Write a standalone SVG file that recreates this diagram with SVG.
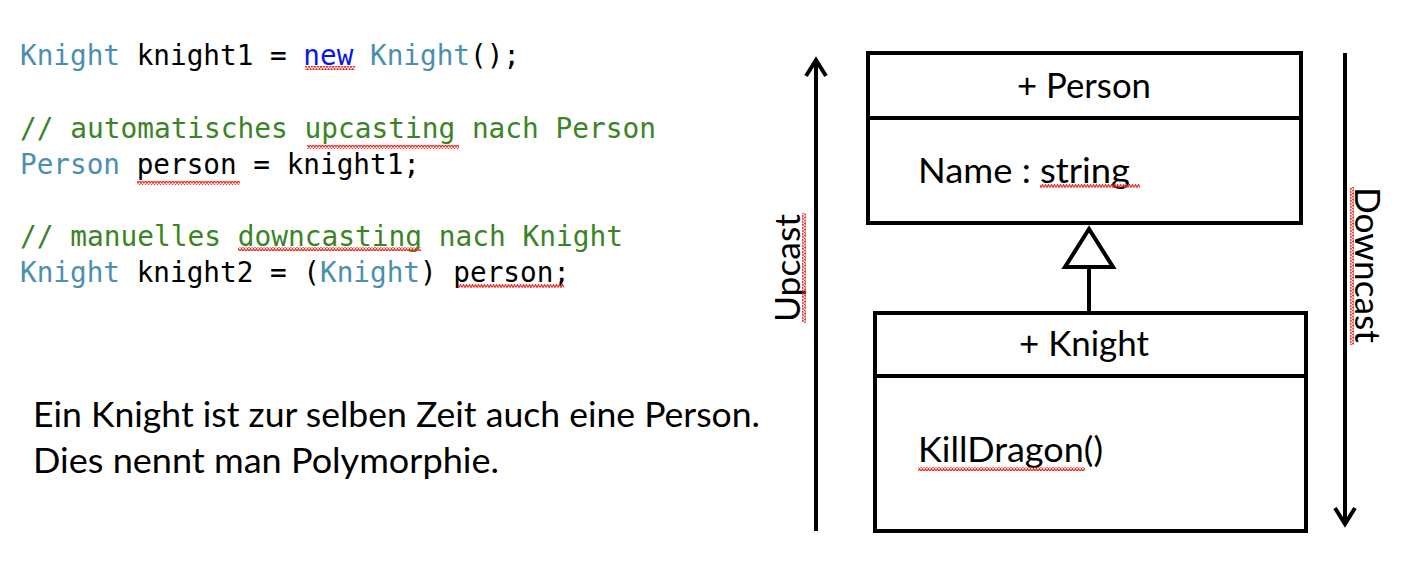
<svg xmlns="http://www.w3.org/2000/svg" width="1402" height="578" viewBox="0 0 1402 578">
<defs>
<pattern id="wavyH" width="6" height="4" patternUnits="userSpaceOnUse">
<path d="M0,3.5 L1.5,0.5 L3,3.5 L4.5,0.5 L6,3.5" fill="none" stroke="#e8322c" stroke-width="1.2"/>
</pattern>
<pattern id="wavyV" width="4" height="6" patternUnits="userSpaceOnUse">
<path d="M3.5,0 L0.5,1.5 L3.5,3 L0.5,4.5 L3.5,6" fill="none" stroke="#e8322c" stroke-width="1.2"/>
</pattern>
</defs>
<style>
.code{font-family:"DejaVu Sans Mono","Liberation Mono",monospace;font-size:28.5px;}
.t{fill:#4b8fb0}.c{fill:#3b8426}.k{fill:#0a14f0}.b{fill:#000}
.cal{font-family:Lato,"Open Sans",sans-serif;fill:#000}
.box{fill:#fff;stroke:#000;stroke-width:4}
.ln{stroke:#000;stroke-width:4;fill:none}
</style>
<rect width="1402" height="578" fill="#fff"/>
<g id="code">
<text class="code" x="20" y="65" textLength="500" lengthAdjust="spacingAndGlyphs"><tspan class="t">Knight</tspan><tspan class="b"> knight1 = </tspan><tspan class="k">new</tspan><tspan class="b"> </tspan><tspan class="t">Knight</tspan><tspan class="b">();</tspan></text>
<text class="code c" x="20" y="138" textLength="636" lengthAdjust="spacingAndGlyphs">// automatisches upcasting nach Person</text>
<text class="code" x="20" y="174" textLength="400" lengthAdjust="spacingAndGlyphs"><tspan class="t">Person</tspan><tspan class="b"> person = knight1;</tspan></text>
<text class="code c" x="20" y="246" textLength="603" lengthAdjust="spacingAndGlyphs">// manuelles downcasting nach Knight</text>
<text class="code" x="20" y="282" textLength="550" lengthAdjust="spacingAndGlyphs"><tspan class="t">Knight</tspan><tspan class="b"> knight2 = (</tspan><tspan class="t">Knight</tspan><tspan class="b">) person;</tspan></text>
<rect x="305" y="66" width="50" height="4" fill="url(#wavyH)"/>
<rect x="307" y="145" width="152" height="4" fill="url(#wavyH)"/>
<rect x="137" y="181" width="103" height="4" fill="url(#wavyH)"/>
<rect x="238" y="247" width="183" height="4" fill="url(#wavyH)"/>
<rect x="458" y="284" width="106" height="4" fill="url(#wavyH)"/>
</g>
<g id="explanation">
<text class="cal" x="33" y="427" font-size="34" textLength="727" lengthAdjust="spacingAndGlyphs">Ein Knight ist zur selben Zeit auch eine Person.</text>
<text class="cal" x="33" y="473" font-size="34" textLength="466" lengthAdjust="spacingAndGlyphs">Dies nennt man Polymorphie.</text>
</g>
<g id="person">
<rect class="box" x="868" y="53" width="433" height="170"/>
<line class="ln" x1="868" y1="118" x2="1301" y2="118"/>
<text class="cal" x="1084" y="98" font-size="35" text-anchor="middle" textLength="134" lengthAdjust="spacingAndGlyphs">+ Person</text>
<text class="cal" x="918" y="183" font-size="35" textLength="212" lengthAdjust="spacingAndGlyphs">Name : string</text>
<rect x="1040" y="184" width="100" height="4" fill="url(#wavyH)"/>
</g>
<g id="knight">
<rect class="box" x="875" y="313" width="431" height="218"/>
<line class="ln" x1="875" y1="376" x2="1306" y2="376"/>
<text class="cal" x="1084" y="356" font-size="35" text-anchor="middle" textLength="130" lengthAdjust="spacingAndGlyphs">+ Knight</text>
<text class="cal" x="918" y="462" font-size="35" textLength="185" lengthAdjust="spacingAndGlyphs">KillDragon()</text>
<rect x="918" y="467" width="167" height="4" fill="url(#wavyH)"/>
</g>
<g id="connectors">
<line class="ln" x1="1089" y1="268" x2="1089" y2="313"/>
<polygon points="1089,229 1065,267 1113,267" fill="#fff" stroke="#000" stroke-width="4" stroke-linejoin="miter"/>
<line class="ln" x1="816" y1="531" x2="816" y2="60"/>
<polyline class="ln" points="806,76 816,60 826,76"/>
<line class="ln" x1="1345" y1="53" x2="1345" y2="524"/>
<polyline class="ln" points="1335,508 1345,524 1355,508"/>
</g>
<g id="labels">
<text class="cal" font-size="35" text-anchor="middle" transform="translate(800,268) rotate(-90)" textLength="108" lengthAdjust="spacingAndGlyphs">Upcast</text>
<rect x="802" y="213" width="4" height="110" fill="url(#wavyV)"/>
<text class="cal" font-size="35" text-anchor="middle" transform="translate(1355,265) rotate(90)" textLength="156" lengthAdjust="spacingAndGlyphs">Downcast</text>
<rect x="1350" y="187" width="4" height="158" fill="url(#wavyV)"/>
</g>
</svg>
